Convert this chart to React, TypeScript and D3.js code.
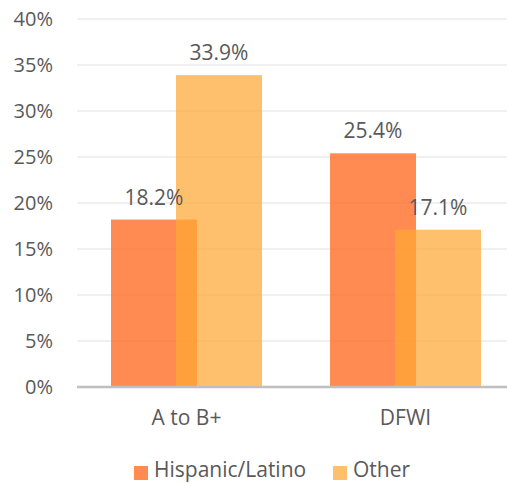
import * as d3 from "d3";

const categories = ["A to B+", "DFWI"];
const series = ["Hispanic/Latino", "Other"];
const hispanicValues = [18.2, 25.4];
const otherValues = [33.9, 17.1];
const yTicks = [0, 5, 10, 15, 20, 25, 30, 35, 40];

const W = 507;
const H = 483;
const FONT = "'Open Sans', sans-serif";
const TEXT = "#595959";
const fills = ["rgba(255,110,40,0.8)", "rgba(255,167,53,0.72)"];

export default function App() {
  const margin = { left: 77, right: -8, top: 19, bottom: 96 };
  const x = d3.scaleBand<string>().domain(categories).range([margin.left, W - margin.right]);
  const y = d3.scaleLinear().domain([0, 40]).range([H - margin.bottom, margin.top]);
  // bar centres relative to the category centre; bars overlap
  const xs = d3.scalePoint<string>().domain(series).range([-32.5, 32.5]);
  const barW = 86;
  const values = [hispanicValues, otherValues];

  return (
    <svg width={W} height={H} style={{ position: "absolute", left: 0, top: 0 }} fontFamily={FONT}>
      <rect width={W} height={H} fill="#fff" />
      {yTicks.map((t) => (
        <g key={t}>
          {t > 0 && <line x1={margin.left} x2={W} y1={y(t)} y2={y(t)} stroke="#ebebeb" strokeWidth={1.5} />}
          <text x={53} y={y(t)} dy="0.36em" textAnchor="end" fontSize={20} fill={TEXT}>
            {`${t}%`}
          </text>
        </g>
      ))}

      {series.map((s, si) =>
        categories.map((c, ci) => {
          const cx = (x(c) ?? 0) + x.bandwidth() / 2 + (xs(s) ?? 0);
          const v = values[si][ci];
          return (
            <rect key={`${s}-${c}`} x={cx - barW / 2} y={y(v)} width={barW} height={y(0) - y(v)} fill={fills[si]} />
          );
        })
      )}
      {series.map((s, si) =>
        categories.map((c, ci) => {
          const cx = (x(c) ?? 0) + x.bandwidth() / 2 + (xs(s) ?? 0);
          const v = values[si][ci];
          return (
            <text key={`l-${s}-${c}`} x={cx} y={y(v) - 15} textAnchor="middle" fontSize={21} fill={TEXT}>
              {`${v.toFixed(1)}%`}
            </text>
          );
        })
      )}

      <line x1={margin.left} x2={W} y1={y(0)} y2={y(0)} stroke="#bfbfbf" strokeWidth={2.5} />

      {categories.map((c) => (
        <text key={c} x={(x(c) ?? 0) + x.bandwidth() / 2} y={425} textAnchor="middle" fontSize={21} fill={TEXT}>
          {c}
        </text>
      ))}

      {series.map((s, si) => {
        const lx = [134, 333][si];
        return (
          <g key={s}>
            <rect x={lx} y={466} width={14} height={14} fill={fills[si]} />
            <text x={lx + 20} y={477} fontSize={21} fill={TEXT}>
              {s}
            </text>
          </g>
        );
      })}
    </svg>
  );
}
